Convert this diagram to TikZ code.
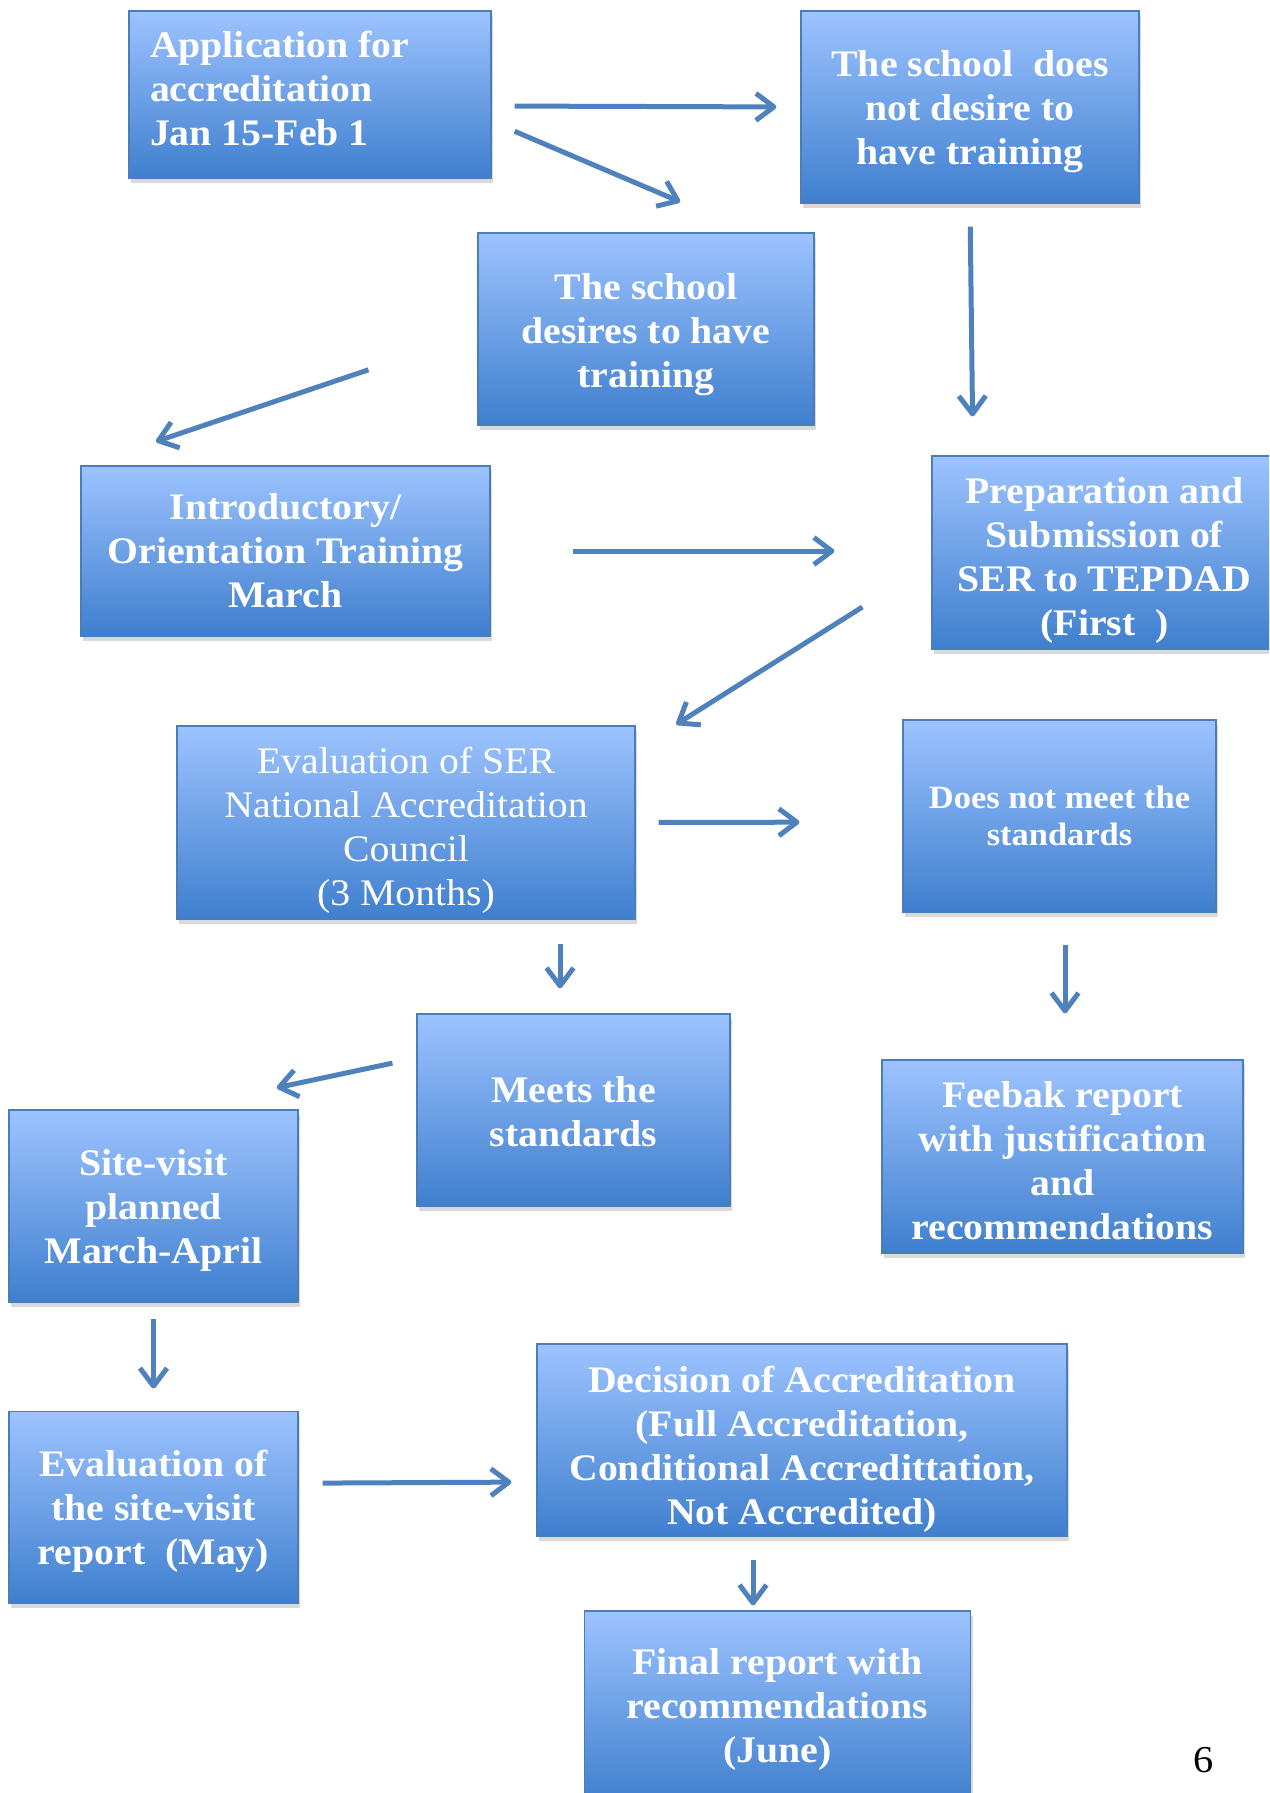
\documentclass[tikz,border=0pt]{standalone}
\usepackage{fontspec}
\setmainfont{Liberation Serif}[FakeStretch=1.06]
\usetikzlibrary{arrows.meta}
\usetikzlibrary{positioning}
\usetikzlibrary{shadows}

\definecolor{boxtop}{HTML}{9DC3FF}
\definecolor{boxbot}{HTML}{3F7FCE}
\definecolor{boxedge}{HTML}{4A7EBB}
\definecolor{arrowblue}{HTML}{4F81BD}

\newcommand{\padtop}[1]{\rule{0pt}{#1}}
\newcommand{\padbot}[1]{\rule[-#1]{0pt}{#1}}

\begin{document}
\begin{tikzpicture}[x=1pt,y=-1pt]
\useasboundingbox (0,0) rectangle (1269,1793);
\clip (0,0) rectangle (1269,1793);

\begin{scope}[every node/.style={draw=boxedge,line width=1.2pt,rectangle,
                                 top color=boxtop,bottom color=boxbot,
                                 drop shadow={opacity=0.3,shadow xshift=2pt,shadow yshift=-5pt},
                                 text=white,align=center,inner sep=0pt,
                                 font=\fontsize{37.5}{44}\selectfont\bfseries,
                                 minimum width=289pt,minimum height=192pt}]
    \node[text width=320pt,align=flush left,minimum width=362pt,minimum height=167pt]
                                        (app)      at (310,94.5)    {Application for\\accreditation\\Jan 15-Feb 1\padbot{12pt}};
    \node[minimum width=338pt]          (nodesire) at (970,107)     {\padtop{35pt}The school\ \ does\\not desire to\\have training};
    \node[minimum width=336pt]          (desire)   at (646,329)     {\padtop{37pt}The school\\desires to have\\training};
    \node[minimum width=409pt,minimum height=170pt]
                                        (intro)    at (285.5,551)   {Introductory/\\Orientation Training\\March};
    \node[minimum width=345pt,minimum height=193pt]
                                        (prep)     at (1104.5,552.5) {\padtop{41pt}Preparation and\\Submission of\\SER to TEPDAD\\(First\ \ )};
    \node[minimum width=458pt,minimum height=193pt,font=\fontsize{37.5}{44}\selectfont]
                                        (evalser)  at (406,822.5)   {\padtop{41.5pt}Evaluation of SER\\National Accreditation\\Council\\(3 Months)};
    \node[minimum width=313pt,font=\fontsize{32.5}{37.7}\selectfont\bfseries]
                                        (notmeet)  at (1059.5,816)  {Does not meet the\\standards};
    \node[minimum width=313pt]          (meets)    at (573.5,1110)  {\padtop{30pt}Meets the\\standards};
    \node[minimum width=361pt,minimum height=193pt]
                                        (feedback) at (1062.5,1156.5) {\padtop{34.5pt}Feebak report\\with justification\\and\\recommendations};
    \node                               (site)     at (153.5,1206)  {\padtop{35pt}Site-visit\\planned\\March-April};
    \node[below=108pt of site]          (evalsite)                  {\padtop{35pt}Evaluation of\\the site-visit\\report\ \ (May)};
    \node[minimum width=530pt]          (decision) at (802,1440)    {\padtop{44pt}Decision of Accreditation\\(Full Accreditation,\\Conditional Accredittation,\\Not Accredited)};
    \node[minimum width=386pt]          (final)    at (777.5,1707)  {\padtop{31pt}Final report with\\recommendations\\(June)};
\end{scope}

\node[font=\fontsize{38}{44}\selectfont] (pagenum) at (1204,1760) {6};

\begin{scope}[>={Straight Barb[length=18pt,width=27pt,line join=round]},
              every edge/.style={draw=arrowblue,line width=5pt}]
    \path [->] ([yshift=-11.5pt]app.east)   edge[shorten <=23pt,shorten >=24pt]   (nodesire.west);
    \path [->] ([yshift=-27pt]app.east)     edge[shorten <=25pt,shorten >=78pt]   ([xshift=106pt]desire.north);
    \path [->] ([yshift=-4pt]desire.west)   edge[shorten <=115pt,shorten >=74.5pt] ([xshift=5pt]intro.north west);
    \path [->] (nodesire.south)             edge[shorten <=23pt,shorten >=39pt]   ([xshift=-131.5pt]prep.north);
    \path [->] (intro.east)                 edge[shorten <=82pt,shorten >=97pt]   ([yshift=1.5pt]prep.west);
    \path [->] ([yshift=-11pt]prep.west)    edge[shorten <=81.6pt,shorten >=2pt]  ([xshift=39pt]evalser.north east);
    \path [->] (evalser.east)               edge[shorten <=23pt,shorten >=103pt]  ([yshift=-6pt]notmeet.west);
    \path [->] ([xshift=154pt]evalser.south) edge[shorten <=24pt,shorten >=25pt]  ([xshift=-13.5pt]meets.north);
    \path [->] ([xshift=5.5pt]notmeet.south) edge[shorten <=32pt,shorten >=46pt]  ([xshift=2.5pt]feedback.north);
    \path [->] ([yshift=52pt]meets.west)    edge[shorten <=24.5pt,shorten >=104pt] ([xshift=21.5pt]site.north);
    \path [->] (site.south)                 edge[shorten <=16pt,shorten >=22pt]   (evalsite.north);
    \path [->] ([yshift=24pt]evalsite.east) edge[shorten <=24pt,shorten >=25pt]   ([yshift=-42pt]decision.west);
    \path [->] ([xshift=-49pt]decision.south) edge[shorten <=23pt,shorten >=5pt]  ([xshift=-24.5pt]final.north);
\end{scope}
\end{tikzpicture}
\end{document}
